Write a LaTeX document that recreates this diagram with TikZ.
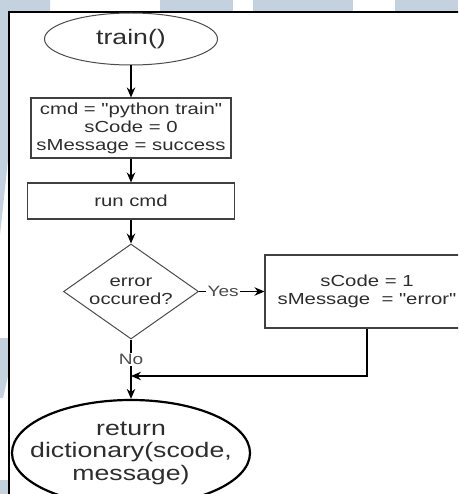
\documentclass[tikz,border=0pt]{standalone}
\usepackage{fontspec}
\setmainfont[FakeStretch=1.27,Ligatures=TeXOff]{Liberation Sans}
\usetikzlibrary{arrows.meta,shapes,positioning}
\definecolor{markblue}{RGB}{196,210,224}
\definecolor{inkgray}{RGB}{45,45,45}

\begin{document}
\begin{tikzpicture}[x=1pt,y=-1pt,on grid,>={Stealth[length=10pt,width=8.5pt]},
    every node/.style={text=inkgray,align=center,inner sep=0pt},
    stepbox/.style={rectangle,draw=black!75,line width=1.1pt,font=\fontsize{16}{18}\selectfont},
    termnode/.style={ellipse,draw=black!70,line width=1pt},
    decision/.style={diamond,draw=black!70,line width=1pt,aspect=1.42,font=\fontsize{16}{18}\selectfont},
    answer/.style={fill=white,inner sep=1.5pt,text=black!70,font=\fontsize{15}{17}\selectfont},
    flow/.style={->,line width=1.2pt}]
        \useasboundingbox (0,0) rectangle (458,494);
        \clip (0,0) rectangle (458,494);
        % watermark behind the frame
        \fill[markblue] (0,0) -- (50,0) -- (50,14) -- (8,14) -- (8,160) -- (0,235) -- cycle;
        \fill[markblue] (160,0) rectangle (233,14);
        \fill[markblue] (253,0) rectangle (353,14);
        \fill[markblue] (395,0) rectangle (458,14);
        \fill[markblue] (0,338) -- (9,338) -- (9,372) -- (3,398) -- (0,398) -- cycle;
        \fill[markblue] (0,480) rectangle (9,494);
        \fill[white] (9,12) rectangle (470,500);
        \draw[line width=1.2pt] (9,500) -- (9,12) -- (470,12);

        \node[termnode,minimum width=173pt,minimum height=52pt,font=\fontsize{21}{24}\selectfont] (train) at (131,39) {train()};
        \node[stepbox,minimum width=200pt,minimum height=60pt] (init) [below=89pt of train] {cmd = "python train"\\sCode = 0\\sMessage = success};
        \node[stepbox,minimum width=207pt,minimum height=36pt] (run) [below=73pt of init] {run cmd};
        \node[decision,minimum width=135pt,minimum height=95pt] (check) [below=90.5pt of run] {error\\occured?};
        \node[stepbox,minimum width=204pt,minimum height=73pt] (fix) [right=236pt of check] {sCode = 1\\sMessage\ \ = "error"};
        \node[termnode,draw=black,line width=2.2pt,inner xsep=-18pt,minimum width=238pt,minimum height=106pt,font=\fontsize{21}{22.5}\selectfont] (ret) [below=161.5pt of check] {return\\dictionary(scode,\\message)};
        \coordinate (merge) at (131,376);

        \draw[flow] (train) -- (init);
        \draw[flow] (init) -- (run);
        \draw[flow] (run) -- (check);
        \draw[flow] (check) -- node[answer,pos=0.37] {Yes} (fix);
        \draw[flow] (check) -- node[answer,pos=0.34] {No} (ret);
        \draw[flow] (fix.south) |- (merge);
\end{tikzpicture}
\end{document}
